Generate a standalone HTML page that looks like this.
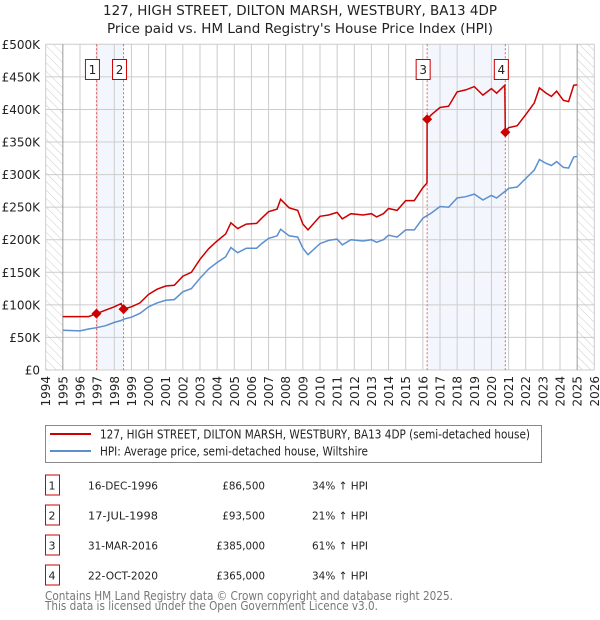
<!DOCTYPE html>
<html><head><meta charset="utf-8"><style>
body{margin:0;background:#fff;}
svg{display:block;font-family:"DejaVu Sans","Liberation Sans",sans-serif;}
</style></head><body>
<svg id="chart" width="600" height="620" viewBox="0 0 600 620" xmlns="http://www.w3.org/2000/svg">
<defs>
<pattern id="hatch" patternUnits="userSpaceOnUse" width="6" height="6" patternTransform="rotate(-45)">
<line x1="0" y1="0" x2="0" y2="6" stroke="#ccc" stroke-width="1"/>
</pattern>
</defs>
<text x="103" y="15" font-size="13" fill="#222" textLength="394" lengthAdjust="spacingAndGlyphs">127, HIGH STREET, DILTON MARSH, WESTBURY, BA13 4DP</text>
<text x="107" y="33" font-size="13" fill="#222" textLength="386" lengthAdjust="spacingAndGlyphs">Price paid vs. HM Land Registry's House Price Index (HPI)</text>
<g id="plot"></g>
<g>
<rect x="45.5" y="425.5" width="496" height="37" fill="#fff" stroke="#888"/>
<line x1="50" y1="434" x2="91" y2="434" stroke="#cc0000" stroke-width="2"/>
<text x="100" y="438.5" font-size="12" fill="#222" textLength="430" lengthAdjust="spacingAndGlyphs">127, HIGH STREET, DILTON MARSH, WESTBURY, BA13 4DP (semi-detached house)</text>
<line x1="50" y1="451" x2="91" y2="451" stroke="#5b8fd0" stroke-width="2"/>
<text x="100" y="455.5" font-size="12" fill="#222" textLength="268" lengthAdjust="spacingAndGlyphs">HPI: Average price, semi-detached house, Wiltshire</text>
</g>
<g id="table" font-size="12" fill="#222"></g>
<text x="45" y="600" font-size="12" fill="#777" textLength="408" lengthAdjust="spacingAndGlyphs">Contains HM Land Registry data © Crown copyright and database right 2025.</text>
<text x="45" y="610" font-size="12" fill="#777" textLength="333" lengthAdjust="spacingAndGlyphs">This data is licensed under the Open Government Licence v3.0.</text>
</svg>
<script>
const yTicks=[0,50,100,150,200,250,300,350,400,450,500];
const yTickLabels=["£0","£50K","£100K","£150K","£200K","£250K","£300K","£350K","£400K","£450K","£500K"];
const xYears=[1994,1995,1996,1997,1998,1999,2000,2001,2002,2003,2004,2005,2006,2007,2008,2009,2010,2011,2012,2013,2014,2015,2016,2017,2018,2019,2020,2021,2022,2023,2024,2025,2026];
const dates=[1995.0,1996.0,1996.5,1996.96,1997.5,1998.0,1998.4,1998.54,1999,1999.5,2000,2000.5,2001,2001.5,2002,2002.5,2003,2003.5,2004,2004.5,2004.8,2005.2,2005.7,2006.3,2006.6,2007,2007.5,2007.7,2008.2,2008.7,2009.0,2009.3,2010,2010.5,2011,2011.3,2011.8,2012.5,2013,2013.3,2013.7,2014,2014.5,2015,2015.5,2016.0,2016.24,2016.25,2016.5,2017,2017.5,2018,2018.5,2019,2019.5,2020,2020.3,2020.78,2020.81,2021,2021.5,2022,2022.5,2022.8,2023.2,2023.5,2023.8,2024.2,2024.5,2024.8,2025.0];
const hpiValues=[61,60,63,65,68,73,76,78,81,87,97,103,107,108,120,125,141,155,165,174,188,180,187,187,194,202,206,216,206,204,187,177,194,199,201,192,200,198,200,196,200,207,204,215,215,233,237,237,241,251,250,264,266,270,261,268,264,274,274,279,281,294,307,323,317,314,320,311,310,327,328];
const priceValues=[82,82,82,86.5,92,97,102,93.5,97,103,116,124,129,130,144,150,170,186,198,209,226,217,224,225,233,243,247,262,249,245,224,215,236,238,242,232,240,238,240,235,240,248,245,260,260,280,287,385,392,403,405,427,430,435,422,432,425,437,365,372,375,392,410,433,425,420,428,414,412,437,438];
const saleDates=[1996.96,1998.54,2016.25,2020.81];
const salePrices=[86.5,93.5,385,365];
const saleLabels=["1","2","3","4"];
const saleDateText=["16-DEC-1996","17-JUL-1998","31-MAR-2016","22-OCT-2020"];
const salePriceText=["£86,500","£93,500","£385,000","£365,000"];
const saleHpiText=["34% ↑ HPI","21% ↑ HPI","61% ↑ HPI","34% ↑ HPI"];

const X0=45.7,X1=594.3,Y0=370,Y1=44.3;
const xs=y=>X0+(y-1994)/(2026-1994)*(X1-X0);
const ys=v=>Y0-(v/500)*(Y0-Y1);
const NS="http://www.w3.org/2000/svg";
const plot=document.getElementById('plot');
function mk(tag,attrs,parent){const e=document.createElementNS(NS,tag);for(const k in attrs)e.setAttribute(k,attrs[k]);(parent||plot).appendChild(e);return e;}

let b=mk('rect',{x:xs(saleDates[0]),y:Y1,width:xs(saleDates[1])-xs(saleDates[0]),height:Y0-Y1,fill:'#eef3fc',opacity:0.7});


b=mk('rect',{x:xs(saleDates[2]),y:Y1,width:xs(saleDates[3])-xs(saleDates[2]),height:Y0-Y1,fill:'#eef3fc',opacity:0.7});


let h=mk('rect',{x:xs(1994),y:Y1,width:xs(1995)-xs(1994),height:Y0-Y1,fill:'url(#hatch)'});


h=mk('rect',{x:xs(2025),y:Y1,width:xs(2026)-xs(2025),height:Y0-Y1,fill:'url(#hatch)'});


yTicks.forEach((t,i)=>{
 const l=mk('line',{x1:X0,x2:X1,y1:ys(t),y2:ys(t),stroke:'#ccc','stroke-width':1});
 
 
 const tx=mk('text',{x:40,y:ys(t)+4.5,'text-anchor':'end','font-size':12,fill:'#222'});
 tx.textContent=yTickLabels[i];
 
 
});
xYears.forEach(yr=>{
 const l=mk('line',{x1:xs(yr),x2:xs(yr),y1:Y1,y2:Y0,stroke:(yr===1995||yr===2025)?'#999':'#ccc','stroke-width':1});
 
 
 const tx=mk('text',{x:0,y:0,'text-anchor':'end','font-size':12,fill:'#222',transform:`translate(${xs(yr)+4.5},${Y0+6}) rotate(-90)`});
 tx.textContent=yr;
 
 
});
saleDates.forEach((d,i)=>{
 const l=mk('line',{x1:xs(d),x2:xs(d),y1:Y1,y2:Y0,stroke:'#e86060','stroke-width':1,'stroke-dasharray':'2,2'});
 
 
 const r=mk('rect',{x:xs(d)-11,y:59.5,width:14,height:20,fill:'#fff',stroke:'#cc0000'});
 
 
 const t=mk('text',{x:xs(d)-4,y:74,'text-anchor':'middle','font-size':12,fill:'#222'});
 t.textContent=saleLabels[i];
 
 
});
const hp=mk('path',{d:dates.map((d,i)=>(i?'L':'M')+xs(d).toFixed(1)+','+ys(hpiValues[i]).toFixed(1)).join(''),fill:'none',stroke:'#5b8fd0','stroke-width':1.5});


const pp=mk('path',{d:dates.map((d,i)=>(i?'L':'M')+xs(d).toFixed(1)+','+ys(priceValues[i]).toFixed(1)).join(''),fill:'none',stroke:'#cc0000','stroke-width':1.5});


saleDates.forEach((d,i)=>{
 const m=mk('path',{d:`M${xs(d)},${ys(salePrices[i])-5}l5,5l-5,5l-5,-5z`,fill:'#cc0000'});
 
 
});
const tb=document.getElementById('table');
saleDates.forEach((d,i)=>{
 const cy=485+i*30;
 const r=mk('rect',{x:45.5,y:cy-10,width:14,height:20,fill:'#fff',stroke:'#cc0000'},tb);
 
 
 const c=[[52,'middle',saleLabels[i],'table-row-number',0],[123,'middle',saleDateText[i],'table-row-date',70],[265,'end',salePriceText[i],'table-row-price',salePriceText[i].length*6.1],[312,'start',saleHpiText[i],'table-row-hpi',56]];
 c.forEach(([x,a,s,n,len])=>{
  const t=mk('text',{x:x,y:cy+4.5,'text-anchor':a,'font-size':11},tb);
  if(len){t.setAttribute('textLength',len);t.setAttribute('lengthAdjust','spacingAndGlyphs');}
  t.textContent=s;
  
  
 });
});
</script>
</body></html>
